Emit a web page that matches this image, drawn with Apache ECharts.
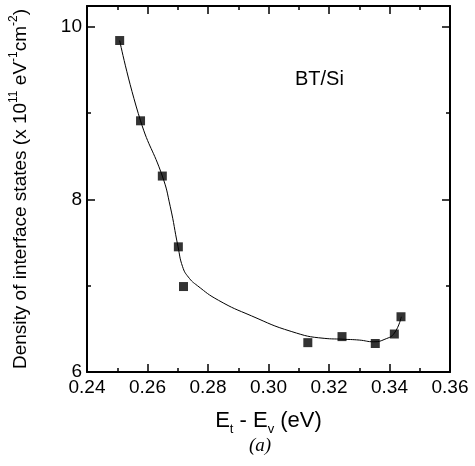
<!DOCTYPE html>
<html><head><meta charset="utf-8">
<script src="https://cdn.jsdelivr.net/npm/echarts@6/dist/echarts.min.js"></script>
<style>html,body{margin:0;padding:0;background:#fff}#c{width:475px;height:466px}</style>
</head><body><div id="c"></div>
<script>
// measured data points
var pointX = [0.2508, 0.2577, 0.2649, 0.2702, 0.2719, 0.3130, 0.3243, 0.3353, 0.3416, 0.3438];
var pointY = [9.84, 8.91, 8.27, 7.45, 6.99, 6.34, 6.41, 6.33, 6.44, 6.64];
// fitted curve
var curveX = [0.2508, 0.2577, 0.2649, 0.2675, 0.2701, 0.2716, 0.2735, 0.2765, 0.2835, 0.2944, 0.3075, 0.3184, 0.3243, 0.3300, 0.3348, 0.3385, 0.3416, 0.3439];
var curveY = [9.84, 8.91, 8.27, 7.92, 7.45, 7.22, 7.10, 7.00, 6.83, 6.65, 6.47, 6.39, 6.38, 6.37, 6.35, 6.38, 6.45, 6.64];
var xTicks = [0.24, 0.26, 0.28, 0.30, 0.32, 0.34, 0.36];
var yTicks = [6, 8, 10];

var pts = pointX.map(function(x, i){ return [x, pointY[i]]; });
var crv = curveX.map(function(x, i){ return [x, curveY[i]]; });
var F = 'Liberation Sans, Arial, sans-serif';
var chart = echarts.init(document.getElementById('c'));
var axisCommon = {
  axisLine: {show: true, onZero: false, lineStyle: {color: '#000', width: 2}},
  axisTick: {show: true, inside: true, length: 8, lineStyle: {color: '#000', width: 1.5}},
  minorTick: {show: true, splitNumber: 2, length: 4, lineStyle: {color: '#000', width: 1.5}},
  splitLine: {show: false}
};
chart.setOption({
  animation: false,
  grid: {left: 84, right: 25, top: 6, bottom: 94},
  xAxis: [
    Object.assign({}, axisCommon, {
      type: 'value', min: 0.24, max: 0.36, interval: 0.02, position: 'bottom',
      axisLabel: {color: '#000', fontSize: 19, fontFamily: F, margin: 6,
        formatter: function(v){ return v.toFixed(2); }},
      name: 'E{sub|t} - E{sub|v} (eV)', nameLocation: 'middle', nameGap: 34,
      nameTextStyle: {color: '#000', fontSize: 22, fontFamily: F, lineHeight: 30, verticalAlign: 'top',
        rich: {sub: {fontSize: 13, fontFamily: F, color: '#000', lineHeight: 13, verticalAlign: 'bottom'}}}
    }),
    Object.assign({}, axisCommon, {
      type: 'value', min: 0.24, max: 0.36, interval: 0.02, position: 'top',
      axisLabel: {show: false}
    })
  ],
  yAxis: [
    Object.assign({}, axisCommon, {
      type: 'value', min: 6, max: 10.24, interval: 2, position: 'left',
      axisLabel: {color: '#000', fontSize: 19, fontFamily: F, margin: 5, showMaxLabel: false,
        formatter: function(v){ return yTicks.indexOf(v) >= 0 ? String(v) : ''; }},
      name: 'Density of interface states (x 10{sup|11} eV{sup|-1}cm{sup|-2})',
      nameLocation: 'middle', nameGap: 54, nameRotate: 90,
      nameTextStyle: {color: '#000', fontSize: 19, fontFamily: F, lineHeight: 25, verticalAlign: 'bottom',
        rich: {sup: {fontSize: 12, fontFamily: F, color: '#000', lineHeight: 12, verticalAlign: 'top'}}}
    }),
    Object.assign({}, axisCommon, {
      type: 'value', min: 6, max: 10.24, interval: 2, position: 'right',
      axisLabel: {show: false}
    })
  ],
  graphic: [
    {type: 'text', left: 295, top: 69, style: {text: 'BT/Si', fontSize: 20, fontFamily: F, fill: '#000'}},
    {type: 'text', left: 249, top: 436, style: {text: '(a)', fontSize: 19, fontFamily: 'Liberation Serif, serif', fontStyle: 'italic', fill: '#000'}}
  ],
  series: [
    {type: 'line', data: crv, smooth: 0.5, showSymbol: false, lineStyle: {color: '#000', width: 1}, z: 2},
    {type: 'scatter', data: pts, symbol: 'rect', symbolSize: 9, itemStyle: {color: '#000'}, z: 3}
  ]
});
</script></body></html>
